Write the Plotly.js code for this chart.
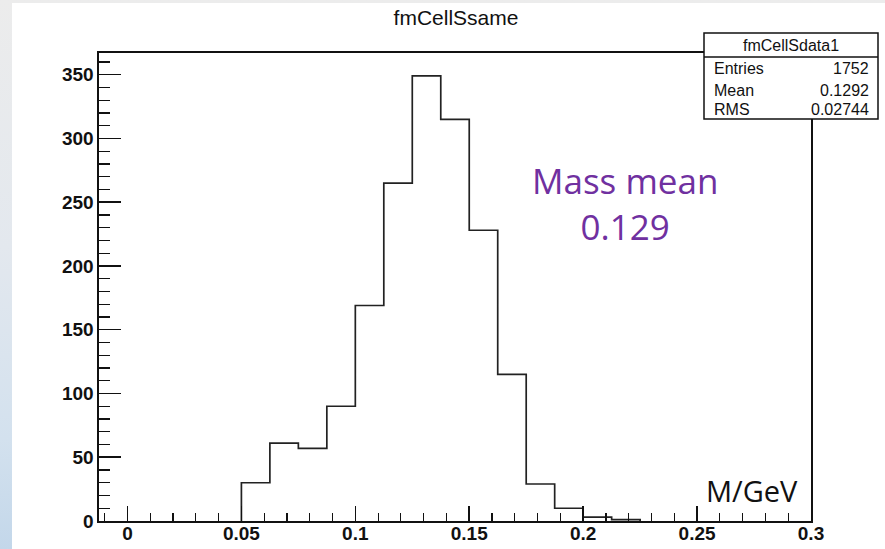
<!DOCTYPE html>
<html>
<head>
<meta charset="utf-8">
<script src="https://cdn.plot.ly/plotly-3.0.1.min.js"></script>
<style>
  html, body { margin: 0; padding: 0; }
  #bg { position: absolute; left: 0; top: 0; width: 885px; height: 549px;
        background: linear-gradient(to bottom, #ececec 0%, #e3e8ee 45%, #d3e1ee 80%, #c3d7ea 100%); }
  #white { position: absolute; left: 12px; top: 3px; width: 873px; height: 546px; background: #ffffff; }
  #chart { position: absolute; left: 0; top: 0; width: 885px; height: 549px; }
</style>
</head>
<body>
<div id="bg"></div>
<div id="white"></div>
<div id="chart"></div>
<script>
// Histogram data (bin width 0.0125)
const binEdges = [0.05, 0.0625, 0.075, 0.0875, 0.1, 0.1125, 0.125, 0.1375, 0.15, 0.1625, 0.175, 0.1875, 0.2, 0.2125, 0.225];
const counts   = [30, 61, 57, 90, 169, 265, 349, 315, 228, 115, 29, 10, 3, 1];
const xTickVals = [0, 0.05, 0.1, 0.15, 0.2, 0.25, 0.3];
const xTickText = ['0', '0.05', '0.1', '0.15', '0.2', '0.25', '0.3'];
const yTickVals = [0, 50, 100, 150, 200, 250, 300, 350];
const histTitle = 'fmCellSsame';
const statsTitle = 'fmCellSdata1';
const statsNames = ['Entries', 'Mean', 'RMS'];
const statsValues = ['1752', '0.1292', '0.02744'];
const noteText = 'Mass mean<br>0.129';
const unitText = 'M/GeV';

// Step outline built from bins
const stepX = [binEdges[0]];
const stepY = [0];
for (let i = 0; i < counts.length; i++) { stepX.push(binEdges[i]); stepY.push(counts[i]); }
stepX.push(binEdges[binEdges.length - 1]); stepY.push(0);

const trace = {
  x: stepX, y: stepY, type: 'scatter', mode: 'lines',
  line: { shape: 'hv', color: '#222', width: 1.7 },
  hoverinfo: 'skip', showlegend: false
};

const W = 885, H = 549;
const M = { l: 99, r: 74, t: 53, b: 28 };
const pw = W - M.l - M.r, ph = H - M.t - M.b;
const px = v => (v - M.l) / pw;      // pixel -> paper x
const py = v => (H - M.b - v) / ph;  // pixel -> paper y

const tickFont = { family: 'Liberation Sans, Arial, sans-serif', size: 19, color: '#111', weight: 'bold' };
const statFont = { family: 'Liberation Sans, Arial, sans-serif', size: 16, color: '#111' };

const annotations = [
  { xref: 'paper', yref: 'paper', x: px(791), y: py(45), text: statsTitle, showarrow: false,
    xanchor: 'center', yanchor: 'middle', font: statFont },
  { xref: 'paper', yref: 'paper', x: px(625), y: py(203), text: noteText, showarrow: false,
    xanchor: 'center', yanchor: 'middle', align: 'center',
    font: { family: 'Open Sans, Lato, sans-serif', size: 35, color: '#7030a0' } },
  { xref: 'paper', yref: 'paper', x: px(752), y: py(490), text: unitText, showarrow: false,
    xanchor: 'center', yanchor: 'middle',
    font: { family: 'Open Sans, Lato, sans-serif', size: 29, color: '#111' } }
];
const rowY = [68, 90, 109];
for (let i = 0; i < statsNames.length; i++) {
  annotations.push({ xref: 'paper', yref: 'paper', x: px(712), y: py(rowY[i]), text: statsNames[i],
    showarrow: false, xanchor: 'left', yanchor: 'middle', font: statFont });
  annotations.push({ xref: 'paper', yref: 'paper', x: px(871), y: py(rowY[i]), text: statsValues[i],
    showarrow: false, xanchor: 'right', yanchor: 'middle', font: statFont });
}

const shapes = [
  { type: 'rect', xref: 'paper', yref: 'paper', x0: px(704), x1: px(878), y0: py(33), y1: py(119),
    fillcolor: '#ffffff', line: { color: '#111', width: 1.5 }, layer: 'above' },
  { type: 'line', xref: 'paper', yref: 'paper', x0: px(704), x1: px(878), y0: py(57), y1: py(57),
    line: { color: '#111', width: 1.5 }, layer: 'above' }
];

const layout = {
  width: W, height: H,
  margin: M,
  paper_bgcolor: 'rgba(0,0,0,0)',
  plot_bgcolor: '#ffffff',
  showlegend: false,
  title: { text: histTitle, x: 456 / W, xref: 'container', xanchor: 'center',
           y: 1 - 18 / H, yref: 'container', yanchor: 'middle',
           font: { family: 'Liberation Sans, Arial, sans-serif', size: 21, color: '#111' } },
  xaxis: {
    range: [-0.0125, 0.3], showgrid: false, zeroline: false,
    showline: true, linecolor: '#111', linewidth: 1.6, mirror: true,
    ticks: 'inside', ticklen: 15, tickwidth: 1.5, tickcolor: '#111',
    tickmode: 'array', tickvals: xTickVals, ticktext: xTickText, tickfont: tickFont,
    ticklabelstandoff: -5,
    minor: { dtick: 0.01, tick0: 0, ticks: 'inside', ticklen: 8, tickwidth: 1.2, tickcolor: '#111', showgrid: false }
  },
  yaxis: {
    range: [0, 367], showgrid: false, zeroline: false,
    showline: true, linecolor: '#111', linewidth: 1.6, mirror: true,
    ticks: 'inside', ticklen: 22, tickwidth: 1.5, tickcolor: '#111',
    tickmode: 'array', tickvals: yTickVals, tickfont: tickFont,
    minor: { dtick: 10, tick0: 0, ticks: 'inside', ticklen: 11, tickwidth: 1.2, tickcolor: '#111', showgrid: false }
  },
  annotations: annotations,
  shapes: shapes
};

Plotly.newPlot('chart', [trace], layout, { staticPlot: true, displayModeBar: false });
</script>
</body>
</html>
